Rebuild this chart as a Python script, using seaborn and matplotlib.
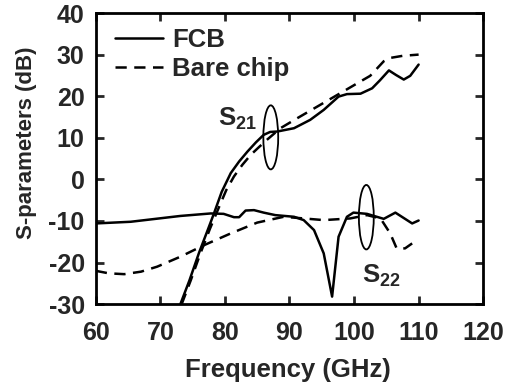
import numpy as np
import pandas as pd
import matplotlib
matplotlib.use("Agg")
import matplotlib.pyplot as plt
from matplotlib.patches import Ellipse
import seaborn as sns

# ---- data ----
fcb_s21_f = [73.1, 74.5, 76.0, 77.5, 78.3, 79.5, 80.9, 82.2, 83.5, 84.8, 86.0, 87.0, 88.1, 90.7, 93.2, 95.3, 97.6, 98.9, 101.0, 102.8, 104.0, 105.4, 106.5, 107.7, 108.7, 110.0]
fcb_s21_db = [-30.0, -24.3, -17.6, -11.5, -8.2, -3.0, 1.5, 4.3, 6.7, 8.9, 10.7, 11.4, 11.5, 12.3, 14.3, 16.7, 19.9, 20.5, 20.6, 21.9, 23.8, 26.2, 25.1, 24.0, 24.9, 27.6]

bare_s21_f = [73.3, 74.7, 76.2, 77.7, 79.1, 80.2, 81.4, 82.7, 84.0, 85.3, 86.5, 88.6, 91.2, 94.3, 97.4, 100.5, 102.5, 104.6, 105.6, 107.5, 110.0]
bare_s21_db = [-30.0, -24.3, -17.8, -11.8, -6.6, -2.6, 0.7, 3.5, 5.9, 7.8, 9.5, 12.3, 14.7, 17.5, 20.3, 23.1, 24.9, 28.4, 29.2, 29.7, 30.0]

fcb_s22_f = [60.0, 65.4, 73.1, 77.8, 79.8, 81.4, 82.2, 83.2, 84.5, 86.0, 87.8, 90.7, 92.2, 93.8, 95.3, 96.6, 97.6, 98.9, 99.9, 102.0, 104.6, 106.4, 109.0, 110.0]
fcb_s22_db = [-10.6, -10.2, -8.8, -8.2, -8.3, -9.1, -9.1, -7.5, -7.4, -8.0, -8.6, -9.0, -9.8, -12.2, -17.8, -28.2, -13.8, -9.0, -8.0, -8.3, -9.5, -8.0, -10.6, -9.9]

bare_s22_f = [60.0, 62.0, 64.4, 67.0, 69.5, 73.1, 76.8, 80.9, 85.0, 89.1, 92.2, 95.3, 99.4, 102.0, 104.1, 105.6, 106.6, 107.9, 109.0]
bare_s22_db = [-22.0, -22.6, -22.8, -22.2, -21.0, -18.6, -15.8, -13.0, -10.4, -9.0, -9.4, -9.8, -9.4, -8.6, -9.4, -13.0, -16.6, -16.6, -15.4]

x_ticks = [60, 70, 80, 90, 100, 110, 120]
y_ticks = [-30, -20, -10, 0, 10, 20, 30, 40]

sns.set_theme(style="ticks")
plt.rcParams['font.family'] = ['Liberation Sans', 'DejaVu Sans']
plt.rcParams['font.weight'] = 'bold'
plt.rcParams['axes.unicode_minus'] = False
plt.rcParams['mathtext.fontset'] = 'custom'
plt.rcParams['mathtext.rm'] = 'Liberation Sans:bold'
plt.rcParams['mathtext.bf'] = 'Liberation Sans:bold'
plt.rcParams['mathtext.it'] = 'Liberation Sans:bold'

frames = []
for f, d, dev, par in [(fcb_s21_f, fcb_s21_db, 'FCB', 'S21'),
                       (bare_s21_f, bare_s21_db, 'Bare chip', 'S21'),
                       (fcb_s22_f, fcb_s22_db, 'FCB', 'S22'),
                       (bare_s22_f, bare_s22_db, 'Bare chip', 'S22')]:
    frames.append(pd.DataFrame({'f': f, 'db': d, 'device': dev, 'param': par}))
df = pd.concat(frames, ignore_index=True)

fig = plt.figure(figsize=(5.07, 3.83), dpi=100)
ax = fig.add_axes([0.189, 0.206, 0.764, 0.760])

dash = (4.5, 3)
for (dev, par), g in df.groupby(['device', 'param'], sort=False):
    sns.lineplot(data=g, x='f', y='db', ax=ax, color='black', lw=1.8,
                 estimator=None, sort=False,
                 label=dev if par == 'S21' else None,
                 linestyle='-' if dev == 'FCB' else (0, dash))

ax.set_xlim(60, 120)
ax.set_ylim(-30, 40)
ax.set_xticks(x_ticks)
ax.set_yticks(y_ticks)
ax.tick_params(direction='in', length=6, width=2, labelsize=18, top=True, right=True)
ax.tick_params(axis='x', pad=12)
ax.tick_params(axis='y', pad=8)
for s in ax.spines.values():
    s.set_linewidth(2)
    s.set_color('black')
ax.set_xlabel('Frequency (GHz)', fontsize=18.5, fontweight='bold')
ax.xaxis.set_label_coords(0.495, -0.185)
ax.set_ylabel('S-parameters (dB)', fontsize=16, fontweight='bold')
ax.yaxis.set_label_coords(-0.152, 0.555)

leg = ax.legend(loc='upper left', frameon=False, fontsize=18.5, handlelength=1.87,
                handletextpad=0.35, borderaxespad=0.0, borderpad=0.0, labelspacing=0.2,
                bbox_to_anchor=(0.049, 0.948))
for h in leg.get_lines():
    h.set_linewidth(1.8)

ax.add_patch(Ellipse((87.1, 10.1), 2.3, 15.4, fill=False, lw=1.3, ec='black'))
ax.add_patch(Ellipse((101.9, -9.1), 2.3, 15.5, fill=False, lw=1.3, ec='black'))
ax.text(78.9, 14.5, r'$\mathbf{S_{21}}$', fontsize=18.5, ha='left', va='center')
ax.text(101.2, -23.2, r'$\mathbf{S_{22}}$', fontsize=18.5, ha='left', va='center')

fig.savefig('out.png', dpi=100)
